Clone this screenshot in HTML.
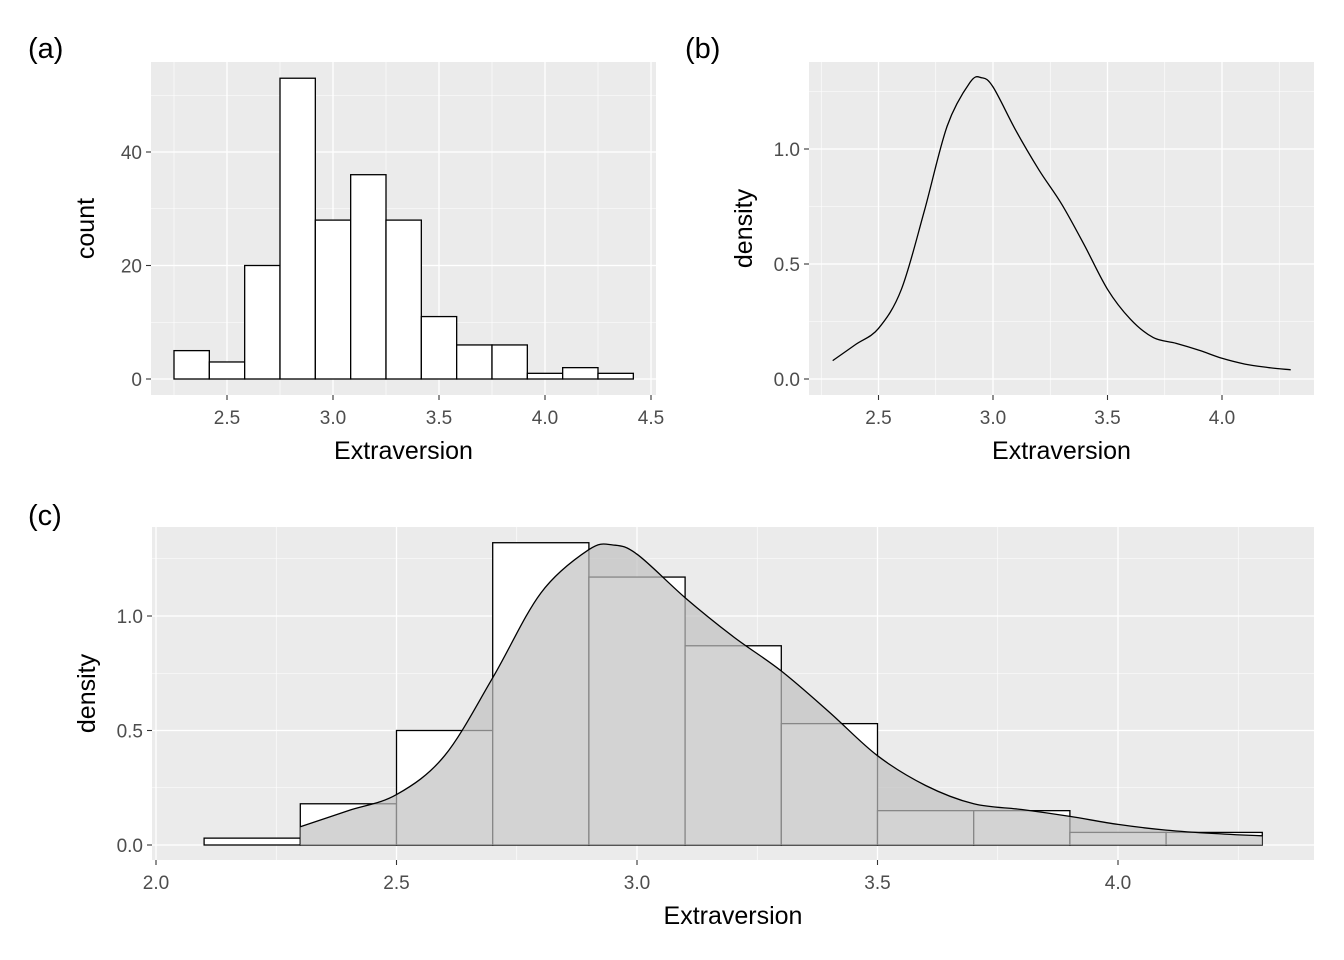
<!DOCTYPE html>
<html><head><meta charset="utf-8"><style>
body{margin:0;background:#fff}
svg{display:block;font-family:"Liberation Sans",Arial,sans-serif}
</style></head><body>
<svg id="s" width="1344" height="960" xmlns="http://www.w3.org/2000/svg"></svg>
<script>
const histCounts=[5,3,20,53,28,36,28,11,6,6,1,2,1];
const histStart=2.25, histWidth=1/6;
const densX=[2.3,2.4,2.5,2.6,2.7,2.8,2.9,2.95,3.0,3.1,3.2,3.3,3.4,3.5,3.6,3.7,3.8,3.9,4.0,4.1,4.2,4.3];
const densY=[0.08,0.15,0.22,0.39,0.73,1.10,1.29,1.31,1.27,1.08,0.91,0.76,0.58,0.39,0.26,0.18,0.155,0.125,0.09,0.065,0.05,0.04];
const cBinStart=2.1, cBinWidth=0.2;
const cDensity=[0.03,0.18,0.50,1.32,1.17,0.87,0.53,0.15,0.15,0.055,0.055];
const aXTicks=[2.5,3.0,3.5,4.0,4.5], aYTicks=[0,20,40];
const bXTicks=[2.5,3.0,3.5,4.0], bYTicks=[0,0.5,1.0];
const cXTicks=[2.0,2.5,3.0,3.5,4.0], cYTicks=[0,0.5,1.0];

const svg=document.getElementById('s');
const NS='http://www.w3.org/2000/svg';
function mk(tag,attrs,parent){const e=document.createElementNS(NS,tag);for(const k in attrs)e.setAttribute(k,attrs[k]);(parent||svg).appendChild(e);return e;}
function smooth(pts){
  let d='M'+pts[0][0].toFixed(1)+','+pts[0][1].toFixed(1);
  for(let i=0;i<pts.length-1;i++){
    const p0=pts[Math.max(0,i-1)],p1=pts[i],p2=pts[i+1],p3=pts[Math.min(pts.length-1,i+2)];
    const c1=[p1[0]+(p2[0]-p0[0])/6,p1[1]+(p2[1]-p0[1])/6];
    const c2=[p2[0]-(p3[0]-p1[0])/6,p2[1]-(p3[1]-p1[1])/6];
    d+='C'+c1[0].toFixed(1)+','+c1[1].toFixed(1)+' '+c2[0].toFixed(1)+','+c2[1].toFixed(1)+' '+p2[0].toFixed(1)+','+p2[1].toFixed(1);
  }
  return d;
}

function panel(name,px0,px1,py0,py1,sx,sy,xt,yt,xdig,ydig,ytitle,label,lx,ly){
  const g=mk('g',{});
  
  
  const bg=mk('rect',{x:px0,y:py0,width:px1-px0,height:py1-py0,fill:'#ebebeb'},g);
  
  
  const xd=xt[1]-xt[0], yd=yt[1]-yt[0];
  for(let v=xt[0]-xd/2; v<=xt[xt.length-1]+xd; v+=xd){const X=sx(v); if(X>px0&&X<px1) mk('line',{x1:X,x2:X,y1:py0,y2:py1,stroke:'#fff','stroke-width':0.6},g);}
  for(let v=yt[0]-yd/2; v<=yt[yt.length-1]+yd; v+=yd){const Y=sy(v); if(Y>py0&&Y<py1) mk('line',{x1:px0,x2:px1,y1:Y,y2:Y,stroke:'#fff','stroke-width':0.6},g);}
  xt.forEach(v=>{const X=sx(v);mk('line',{x1:X,x2:X,y1:py0,y2:py1,stroke:'#fff','stroke-width':1.3},g);
    mk('line',{x1:X,x2:X,y1:py1,y2:py1+5,stroke:'#333','stroke-width':1.1},g);
    const t=mk('text',{x:X,y:py1+29,'text-anchor':'middle','font-size':19,fill:'#4d4d4d'},g);t.textContent=v.toFixed(xdig);
    
    });
  yt.forEach(v=>{const Y=sy(v);mk('line',{x1:px0,x2:px1,y1:Y,y2:Y,stroke:'#fff','stroke-width':1.3},g);
    mk('line',{x1:px0-5,x2:px0,y1:Y,y2:Y,stroke:'#333','stroke-width':1.1},g);
    const t=mk('text',{x:px0-9,y:Y+7,'text-anchor':'end','font-size':19,fill:'#4d4d4d'},g);t.textContent=v.toFixed(ydig);
    
    });
  const xtl=mk('text',{x:(px0+px1)/2,y:py1+64,'text-anchor':'middle','font-size':25,fill:'#000'},g);xtl.textContent='Extraversion';
  
  
  const cy=(py0+py1)/2;
  const tx=px0-57;
  const ytl=mk('text',{x:tx,y:cy,'text-anchor':'middle','font-size':25,fill:'#000',transform:`rotate(-90 ${tx} ${cy})`},g);ytl.textContent=ytitle;
  
  
  const pl=mk('text',{x:lx,y:ly,'font-size':29,fill:'#000'},g);pl.textContent=label;
  
  
  return g;
}

{const sx=v=>227+(v-2.5)*212, sy=v=>379-v*5.675;
 const g=panel('panel-a-histogram',151,656,62,395,sx,sy,aXTicks,aYTicks,1,0,'count','(a)',28,58);
 histCounts.forEach((c,i)=>{const x0=sx(histStart+i*histWidth),x1=sx(histStart+(i+1)*histWidth);
  const r=mk('rect',{x:x0,y:sy(c),width:x1-x0,height:sy(0)-sy(c),fill:'#fff',stroke:'#000','stroke-width':1.3},g);
  
  });}

{const sx=v=>993+(v-3.0)*229, sy=v=>379-v*230;
 const g=panel('panel-b-density',809,1314,62,395,sx,sy,bXTicks,bYTicks,1,1,'density','(b)',685,58);
 const p=mk('path',{d:smooth(densX.map((x,i)=>[sx(x),sy(densY[i])])),fill:'none',stroke:'#000','stroke-width':1.3,'stroke-linejoin':'round'},g);
 
 }

{const sx=v=>637+(v-3.0)*481, sy=v=>845-v*229;
 const g=panel('panel-c-hist-density',152,1314,527,860,sx,sy,cXTicks,cYTicks,1,1,'density','(c)',28,525);
 cDensity.forEach((c,i)=>{const x0=sx(cBinStart+i*cBinWidth),x1=sx(cBinStart+(i+1)*cBinWidth);
  const r=mk('rect',{x:x0,y:sy(c),width:x1-x0,height:sy(0)-sy(c),fill:'#fff',stroke:'#000','stroke-width':1.3},g);
  
  });
 const line=smooth(densX.map((x,i)=>[sx(x),sy(densY[i])]));
 const d='M'+sx(densX[0])+','+sy(0)+'L'+line.slice(1)+'L'+sx(densX[densX.length-1])+','+sy(0)+'Z';
 const a=mk('path',{d:d,fill:'#c0c0c0','fill-opacity':0.7,stroke:'none'},g);
 
 
 const p=mk('path',{d:line,fill:'none',stroke:'#000','stroke-width':1.3},g);
 
 }
</script>
</body></html>
